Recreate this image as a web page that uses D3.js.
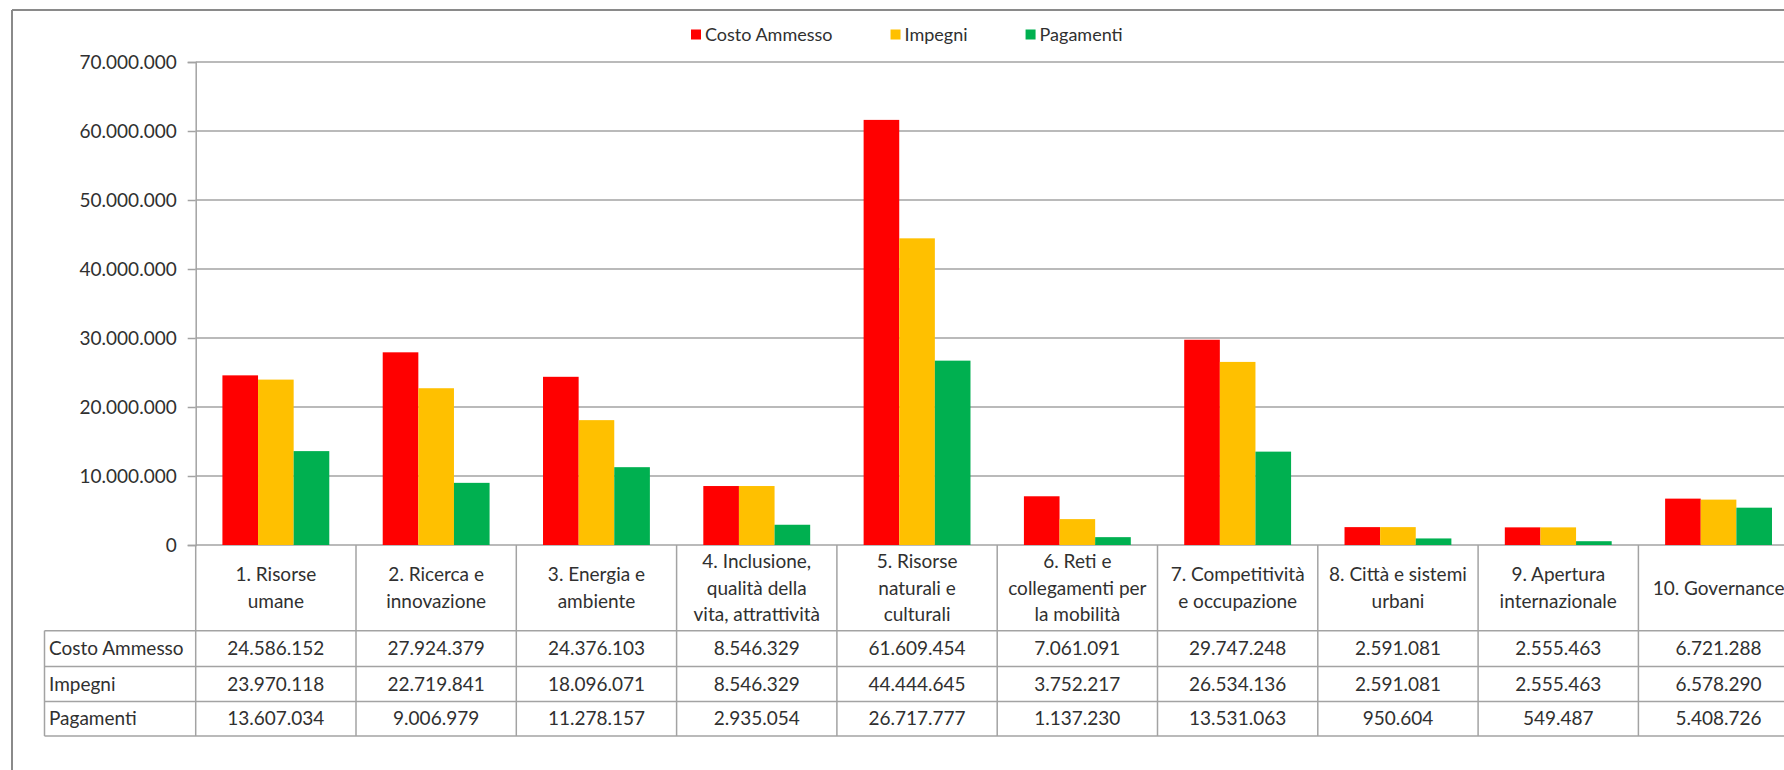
<!DOCTYPE html>
<html><head><meta charset="utf-8">
<script src="https://cdn.jsdelivr.net/npm/d3@7"></script>
<style>
body{margin:0;background:#fff}
svg{display:block}
text{font-family:Lato,"Open Sans",sans-serif;fill:#303030}
</style>
</head><body>
<svg id="c" width="1784" height="770"></svg>
<script>
const categories = [
  "1. Risorse\numane",
  "2. Ricerca e\ninnovazione",
  "3. Energia e\nambiente",
  "4. Inclusione,\nqualità della\nvita, attrattività",
  "5. Risorse\nnaturali e\nculturali",
  "6. Reti e\ncollegamenti per\nla mobilità",
  "7. Competitività\ne occupazione",
  "8. Città e sistemi\nurbani",
  "9. Apertura\ninternazionale",
  "10. Governance"
];
const seriesNames = ["Costo Ammesso", "Impegni", "Pagamenti"];
const costoAmmesso = [24586152, 27924379, 24376103, 8546329, 61609454, 7061091, 29747248, 2591081, 2555463, 6721288];
const impegni = [23970118, 22719841, 18096071, 8546329, 44444645, 3752217, 26534136, 2591081, 2555463, 6578290];
const pagamenti = [13607034, 9006979, 11278157, 2935054, 26717777, 1137230, 13531063, 950604, 549487, 5408726];
const yTicks = [0, 10000000, 20000000, 30000000, 40000000, 50000000, 60000000, 70000000];
const colors = ["#FF0000", "#FFC000", "#00B050"];

const seriesValues = [costoAmmesso, impegni, pagamenti];
const loc = d3.formatLocale({decimal: ",", thousands: ".", grouping: [3], currency: ["€", ""]});
const fmt = loc.format(",d");

const svg = d3.select("#c");
const gridColor = "#a3a3a3";

// frame
svg.append("rect").attr("x", 0).attr("y", 0).attr("width", 1784).attr("height", 770).attr("fill", "#fff");
svg.append("line").attr("x1", 12).attr("x2", 1784).attr("y1", 10).attr("y2", 10).attr("stroke", "#8a8a8a").attr("stroke-width", 2);
svg.append("line").attr("x1", 12).attr("x2", 12).attr("y1", 10).attr("y2", 770).attr("stroke", "#8a8a8a").attr("stroke-width", 2);

const plotLeft = 195.7, colW = 160.3;
const x = d3.scaleBand().domain(d3.range(categories.length)).range([plotLeft, plotLeft + colW * categories.length]).paddingInner(0).paddingOuter(0);
const xs = d3.scaleBand().domain(d3.range(seriesNames.length)).range([0, x.bandwidth()]).paddingInner(0).paddingOuter(0.75);
const y = d3.scaleLinear().domain([0, 70000000]).range([545, 62]);

// gridlines
svg.append("g").selectAll("line").data(yTicks).join("line")
  .attr("x1", plotLeft).attr("x2", 1784)
  .attr("y1", d => y(d)).attr("y2", d => y(d))
  .attr("stroke", gridColor).attr("stroke-width", 1.5);

// y axis
const yAxis = svg.append("g").attr("transform", `translate(${plotLeft},0)`)
  .call(d3.axisLeft(y).tickValues(yTicks).tickFormat(fmt).tickSize(8).tickPadding(11));
yAxis.select(".domain").attr("stroke", gridColor).attr("stroke-width", 1.5);
yAxis.selectAll(".tick line").attr("stroke", gridColor).attr("stroke-width", 1.5);
yAxis.selectAll(".tick text").style("font-family", "Lato").style("font-size", "19px").attr("fill", "#303030");

// bars
const groups = svg.append("g").selectAll("g").data(categories).join("g")
  .attr("transform", (d, i) => `translate(${x(i)},0)`);
groups.selectAll("rect").data((d, i) => seriesValues.map((s, k) => ({k, v: s[i]}))).join("rect")
  .attr("x", d => xs(d.k)).attr("width", xs.bandwidth())
  .attr("y", d => y(d.v)).attr("height", d => y(0) - y(d.v))
  .attr("fill", d => colors[d.k]);

// table
const rowTop = [545, 630.7, 666.5, 701.5, 736];
const tableLeft = 44.5;
const tg = svg.append("g");
[1, 2, 3, 4].forEach(r => {
  tg.append("line").attr("x1", tableLeft).attr("x2", 1784).attr("y1", rowTop[r]).attr("y2", rowTop[r]);
});
tg.append("line").attr("x1", tableLeft).attr("x2", tableLeft).attr("y1", rowTop[1]).attr("y2", rowTop[4]);
tg.selectAll("line.col").data(d3.range(categories.length + 1)).join("line").attr("class", "col")
  .attr("x1", i => plotLeft + i * colW).attr("x2", i => plotLeft + i * colW)
  .attr("y1", rowTop[0]).attr("y2", rowTop[4]);
tg.selectAll("line").attr("stroke", gridColor).attr("stroke-width", 1.5);

// category labels
const lineH = 26.7;
const catMid = (rowTop[0] + rowTop[1]) / 2;
svg.append("g").selectAll("text").data(categories).join("text")
  .attr("text-anchor", "middle").style("font-size", "19px")
  .attr("transform", (d, i) => `translate(${x(i) + x.bandwidth() / 2},0)`)
  .each(function(d) {
    const lines = d.split("\n");
    const t = d3.select(this);
    lines.forEach((ln, j) => {
      t.append("tspan").attr("x", 0)
        .attr("y", catMid + (j - (lines.length - 1) / 2) * lineH)
        .attr("dy", "0.35em").text(ln);
    });
  });

// row headers and values
seriesNames.forEach((name, k) => {
  const cy = (rowTop[k + 1] + rowTop[k + 2]) / 2;
  svg.append("text").attr("x", 49).attr("y", cy).attr("dy", "0.35em").style("font-size", "19px").text(name);
  svg.append("g").selectAll("text").data(seriesValues[k]).join("text")
    .attr("x", (d, i) => x(i) + x.bandwidth() / 2).attr("y", cy).attr("dy", "0.35em")
    .attr("text-anchor", "middle").style("font-size", "19px").text(d => fmt(d));
});

// legend
const lg = svg.append("g");
let lx = 691;
seriesNames.forEach((name, k) => {
  lg.append("rect").attr("x", lx).attr("y", 29.5).attr("width", 10).attr("height", 10).attr("fill", colors[k]);
  const t = lg.append("text").attr("x", lx + 14).attr("y", 34.5).attr("dy", "0.35em").style("font-size", "18px").text(name);
  lx = lx + 14 + t.node().getComputedTextLength() + 58;
});
</script>
</body></html>
